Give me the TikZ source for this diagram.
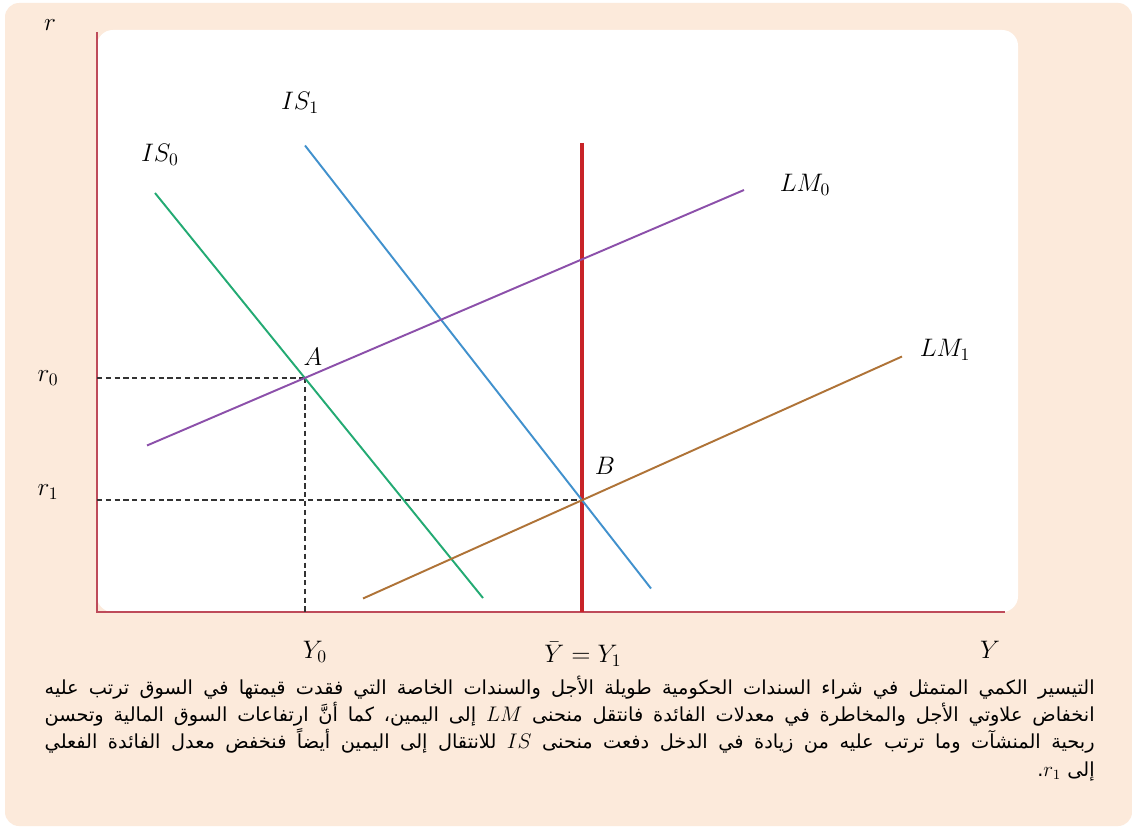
\documentclass[tikz,border=0pt]{standalone}
\usepackage{fontspec}
\newfontfamily\arabicfont[Script=Arabic]{DejaVu Sans}
\TeXXeTstate=1
\usetikzlibrary{calc}
\definecolor{peach}{RGB}{252,234,219}
\definecolor{axisred}{RGB}{190,75,90}
\definecolor{fullred}{RGB}{200,35,40}
\definecolor{isgreen}{RGB}{35,170,115}
\definecolor{isblue}{RGB}{65,145,205}
\definecolor{lmpurple}{RGB}{140,80,170}
\definecolor{lmbrown}{RGB}{175,115,55}
\tikzset{
  axis/.style={draw=axisred, line width=1.6pt},
  curve/.style={line width=1.1pt},
  guide/.style={draw=black!80, dash pattern=on 3pt off 2pt, line width=.7pt},
  lbl/.style={font=\Large, inner sep=1pt}
}
\newcommand{\arline}[1]{\hbox to 21cm{\beginR #1\endR}}
\newcommand{\armath}[1]{\beginL{\large$#1$}\endL}

\begin{document}
\begin{tikzpicture}[x=1cm,y=1cm]
\useasboundingbox (0,0) rectangle (22.64,16.56);
\fill[white] (0,0) rectangle (22.64,16.56);
\fill[peach, rounded corners=8pt] (0.10,0.04) rectangle (22.64,16.50);
\fill[white, rounded corners=9pt] (1.94,4.32) rectangle (20.36,15.96);

% Axes
\coordinate (O) at (1.94,4.32);
\coordinate (rtop) at (1.94,15.92);
\coordinate (Yend) at (20.10,4.32);
\draw[axis] (rtop) -- (O) -- (Yend);
\node[lbl] (rlab) at (1.00,16.06) {$r$};
\node[lbl] (Ylab) at (19.80,3.56) {$Y$};

% Equilibria
\coordinate (A) at (6.10,9.00);
\coordinate (B) at (11.64,6.56);
\draw[guide] (A -| O) -- (A);
\draw[guide] (A) -- (A |- O);
\draw[guide] (B -| O) -- (B);

% Full-employment output
\coordinate (Ytop) at (11.64,13.70);
\draw[draw=fullred, line width=1.8pt] (Ytop) -- (Ytop |- O);

% IS curves
\coordinate (IS0a) at (3.10,12.70);
\coordinate (IS0b) at (9.66,4.60);
\coordinate (IS1a) at (6.10,13.65);
\coordinate (IS1b) at (13.02,4.79);
\draw[curve, isgreen] (IS0a) -- (IS0b);
\draw[curve, isblue] (IS1a) -- (IS1b);

% LM curves
\coordinate (LM0a) at (2.94,7.65);
\coordinate (LM0b) at (14.88,12.76);
\coordinate (LM1a) at (7.26,4.59);
\coordinate (LM1b) at (18.04,9.43);
\draw[curve, lmpurple] (LM0a) -- (LM0b);
\draw[curve, lmbrown] (LM1a) -- (LM1b);

% Labels
\node[lbl] (IS0lab) at (3.20,13.46) {$IS_0$};
\node[lbl] (IS1lab) at (6.00,14.50) {$IS_1$};
\node[lbl] (LM0lab) at (16.10,12.86) {$LM_0$};
\node[lbl] (LM1lab) at (18.90,9.56) {$LM_1$};
\node[lbl] (Alab) at (6.26,9.42) {$A$};
\node[lbl] (Blab) at (12.10,7.24) {$B$};
\node[lbl] (r0lab) at (0.96,9.00) {$r_0$};
\node[lbl] (r1lab) at (0.96,6.72) {$r_1$};
\node[lbl] (Y0lab) at (6.30,3.52) {$Y_0$};
\node[lbl] (Y1lab) at (11.66,3.48) {$\bar{Y}=Y_1$};

% Caption
\node[anchor=north east, inner sep=0pt] (caption) at (21.90,3.04)
  {\vbox{\arabicfont\fontsize{11}{15.4}\selectfont
  \arline{التيسير الكمي المتمثل في شراء السندات الحكومية طويلة الأجل والسندات الخاصة التي فقدت قيمتها في السوق ترتب عليه}
  \arline{انخفاض علاوتي الأجل والمخاطرة في معدلات الفائدة فانتقل منحنى \armath{LM} إلى اليمين، كما أنَّ ارتفاعات السوق المالية وتحسن}
  \arline{ربحية المنشآت وما ترتب عليه من زيادة في الدخل دفعت منحنى \armath{IS} للانتقال إلى اليمين أيضاً فنخفض معدل الفائدة الفعلي}
  \hbox to 21cm{\hfill\beginR إلى \armath{r_1}.\endR}}};

\end{tikzpicture}
\end{document}
